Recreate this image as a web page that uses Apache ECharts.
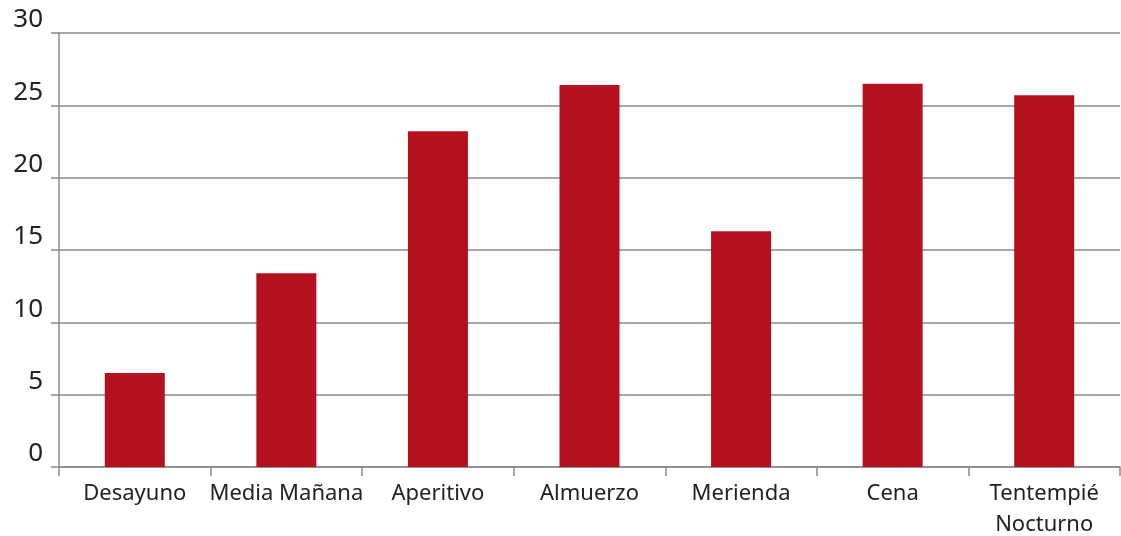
<!DOCTYPE html>
<html>
<head>
<meta charset="utf-8">
<script src="https://cdn.jsdelivr.net/npm/echarts@6/dist/echarts.min.js"></script>
<style>
  html, body { margin: 0; padding: 0; background: #fff; }
  #chart { width: 1121px; height: 536px; }
</style>
</head>
<body>
<div id="chart"></div>
<script>
// categorías y valores
const categories = ["Desayuno", "Media Mañana", "Aperitivo", "Almuerzo", "Merienda", "Cena", "Tentempié\nNocturno"];
const values = [6.5, 13.4, 23.2, 26.4, 16.3, 26.5, 25.7];
const yTicks = [0, 5, 10, 15, 20, 25, 30];

const chart = echarts.init(document.getElementById("chart"));

const option = {
  animation: false,
  grid: {
    left: 59,
    right: 1,
    top: 33,
    bottom: 69,
    outerBoundsMode: "none",
    containLabel: false,
  },
  xAxis: {
    type: "category",
    data: categories,
    axisLine: { show: true, lineStyle: { color: "#8a8a8a", width: 1.5 } },
    axisTick: {
      show: true,
      alignWithLabel: false,
      length: 9,
      lineStyle: { color: "#8a8a8a", width: 1.5 },
    },
    axisLabel: {
      color: "#222",
      fontFamily: "Noto Sans",
      fontSize: 22,
      margin: 11,
      lineHeight: 31,
      interval: 0,
    },
  },
  yAxis: {
    type: "value",
    min: yTicks[0],
    max: yTicks[yTicks.length - 1],
    interval: 5,
    axisLine: { show: true, lineStyle: { color: "#8a8a8a", width: 1.5 } },
    axisTick: { show: true, length: 8, lineStyle: { color: "#8a8a8a", width: 1.5 } },
    splitLine: { show: true, lineStyle: { color: "#8a8a8a", width: 1.5 } },
    axisLabel: {
      color: "#222",
      fontFamily: "Noto Sans",
      fontSize: 26,
      margin: 16,
      align: "right",
      verticalAlign: "bottom",
    },
  },
  series: [
    {
      type: "bar",
      data: values,
      barWidth: 60,
      itemStyle: { color: "#B5101D" },
    },
  ],
};

chart.setOption(option);
</script>
</body>
</html>
